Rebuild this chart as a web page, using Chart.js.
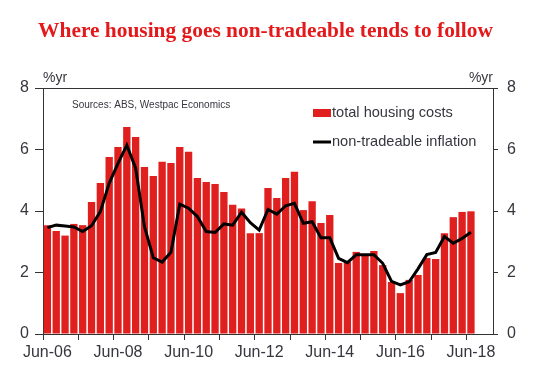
<!DOCTYPE html>
<html>
<head>
<meta charset="utf-8">
<script src="https://cdn.jsdelivr.net/npm/chart.js@4.4.1/dist/chart.umd.min.js"></script>
<style>
  html, body { margin: 0; padding: 0; background: #fff; }
  #wrap { width: 560px; height: 378px; position: relative; }
</style>
</head>
<body>
<div id="wrap"><canvas id="c" width="560" height="378"></canvas></div>
<script>
const categories = [
  'Jun-06','Sep-06','Dec-06','Mar-07','Jun-07','Sep-07','Dec-07','Mar-08',
  'Jun-08','Sep-08','Dec-08','Mar-09','Jun-09','Sep-09','Dec-09','Mar-10',
  'Jun-10','Sep-10','Dec-10','Mar-11','Jun-11','Sep-11','Dec-11','Mar-12',
  'Jun-12','Sep-12','Dec-12','Mar-13','Jun-13','Sep-13','Dec-13','Mar-14',
  'Jun-14','Sep-14','Dec-14','Mar-15','Jun-15','Sep-15','Dec-15','Mar-16',
  'Jun-16','Sep-16','Dec-16','Mar-17','Jun-17','Sep-17','Dec-17','Mar-18',
  'Jun-18'
];
const padCategories = ['', ''];

const housingCosts = [
  3.54, 3.35, 3.20, 3.58, 3.54, 4.29, 4.91, 5.76,
  6.08, 6.73, 6.41, 5.43, 5.14, 5.60, 5.56, 6.08,
  5.93, 5.07, 4.94, 4.88, 4.62, 4.20, 4.08, 3.28,
  3.28, 4.75, 4.42, 5.07, 5.28, 4.03, 4.32, 3.61,
  3.87, 2.31, 2.34, 2.67, 2.54, 2.70, 2.24, 1.69,
  1.33, 1.76, 1.92, 2.47, 2.44, 3.28, 3.80, 3.97,
  3.99
];
const nonTradeable = [
  3.46, 3.54, 3.51, 3.48, 3.33, 3.52, 3.98, 4.90,
  5.55, 6.14, 5.39, 3.49, 2.48, 2.34, 2.66, 4.22,
  4.09, 3.82, 3.33, 3.30, 3.58, 3.54, 3.96, 3.62,
  3.38, 4.05, 3.90, 4.17, 4.25, 3.60, 3.65, 3.13,
  3.13, 2.46, 2.32, 2.58, 2.58, 2.58, 2.30, 1.71,
  1.60, 1.70, 2.12, 2.58, 2.65, 3.17, 2.95, 3.11,
  3.31
];
const yTicks = [0, 2, 4, 6, 8];
const titleText = 'Where housing goes non-tradeable tends to follow';
const unitText = '%yr';
const sourceText = 'Sources: ABS, Westpac Economics';

const RED = '#E0201E';
const AXIS = '#333333';
const TXT = '#36363e';
const SANS = '"Liberation Sans", Arial, sans-serif';

const allLabels = categories.concat(padCategories);

const decorPlugin = {
  id: 'decor',
  afterDraw(chart) {
    const ctx = chart.ctx;
    const a = chart.chartArea;
    ctx.save();
    ctx.strokeStyle = AXIS;
    ctx.lineWidth = 1;
    ctx.beginPath();
    ctx.moveTo(a.left, a.top + 0.5);
    ctx.lineTo(a.right, a.top + 0.5);
    ctx.stroke();
    ctx.fillStyle = '#E3191B';
    ctx.font = 'bold 21.4px "Liberation Serif", "Times New Roman", serif';
    ctx.textAlign = 'center';
    ctx.textBaseline = 'alphabetic';
    ctx.fillText(titleText, 265.5, 36.5);
    ctx.fillStyle = TXT;
    ctx.font = '14px ' + SANS;
    ctx.textAlign = 'left';
    ctx.fillText(unitText, a.left, 82);
    ctx.textAlign = 'right';
    ctx.fillText(unitText, a.right, 82);
    ctx.font = '10px ' + SANS;
    ctx.textAlign = 'left';
    ctx.fillText(sourceText, 72, 107.5);
    const ds = chart.data.datasets;
    ctx.font = '14.6px ' + SANS;
    ctx.textBaseline = 'middle';
    ctx.fillStyle = RED;
    ctx.fillRect(313, 109, 18, 8);
    ctx.fillStyle = TXT;
    ctx.fillText(ds[0].label, 332, 113);
    ctx.strokeStyle = '#000';
    ctx.lineWidth = 3;
    ctx.beginPath();
    ctx.moveTo(313, 142);
    ctx.lineTo(331, 142);
    ctx.stroke();
    ctx.fillText(ds[1].label, 332, 142);
    ctx.restore();
  }
};

const yCommon = {
  min: 0, max: 8,
  afterBuildTicks(scale) { scale.ticks = yTicks.map(v => ({ value: v })); },
  ticks: { color: TXT, font: { family: SANS, size: 16 } },
  grid: { drawOnChartArea: false, color: AXIS, tickColor: AXIS },
  border: { display: true, color: AXIS, width: 1 }
};

new Chart(document.getElementById('c'), {
  data: {
    labels: allLabels,
    datasets: [
      {
        type: 'bar',
        label: 'total housing costs',
        data: housingCosts,
        backgroundColor: RED,
        borderWidth: 0,
        barPercentage: 0.83,
        categoryPercentage: 1.0,
        yAxisID: 'y',
        order: 2
      },
      {
        type: 'line',
        label: 'non-tradeable inflation',
        data: nonTradeable,
        borderColor: '#000',
        borderWidth: 3,
        pointRadius: 0,
        tension: 0,
        fill: false,
        yAxisID: 'y',
        order: 1
      }
    ]
  },
  options: {
    responsive: false,
    animation: false,
    devicePixelRatio: 1,
    layout: { padding: { top: 88, left: 0, right: 0, bottom: 0 } },
    plugins: { legend: { display: false }, title: { display: false }, tooltip: { enabled: false } },
    scales: {
      x: {
        type: 'category',
        offset: true,
        afterFit(scale) { scale.height = 44; },
        grid: {
          offset: true,
          drawOnChartArea: false,
          tickLength: 6,
          color: (c) => (c.index % 4 === 0 && c.index <= 48) ? AXIS : 'rgba(0,0,0,0)'
        },
        border: { display: true, color: AXIS, width: 1 },
        ticks: {
          autoSkip: false,
          maxRotation: 0,
          minRotation: 0,
          padding: 3,
          color: TXT,
          font: { family: SANS, size: 16 },
          callback: function(v, i) { return (i % 8 === 0 && i < categories.length) ? categories[i] : ''; }
        }
      },
      y: Object.assign({}, yCommon, {
        position: 'left',
        afterFit(scale) { scale.width = 43; },
        grid: Object.assign({}, yCommon.grid, { tickLength: 8 }),
        ticks: Object.assign({}, yCommon.ticks, { padding: 6 })
      }),
      y2: Object.assign({}, yCommon, {
        position: 'right',
        afterFit(scale) { scale.width = 67; },
        grid: Object.assign({}, yCommon.grid, { tickLength: 5 }),
        ticks: Object.assign({}, yCommon.ticks, { padding: 9 })
      })
    }
  },
  plugins: [decorPlugin]
});
</script>
</body>
</html>
